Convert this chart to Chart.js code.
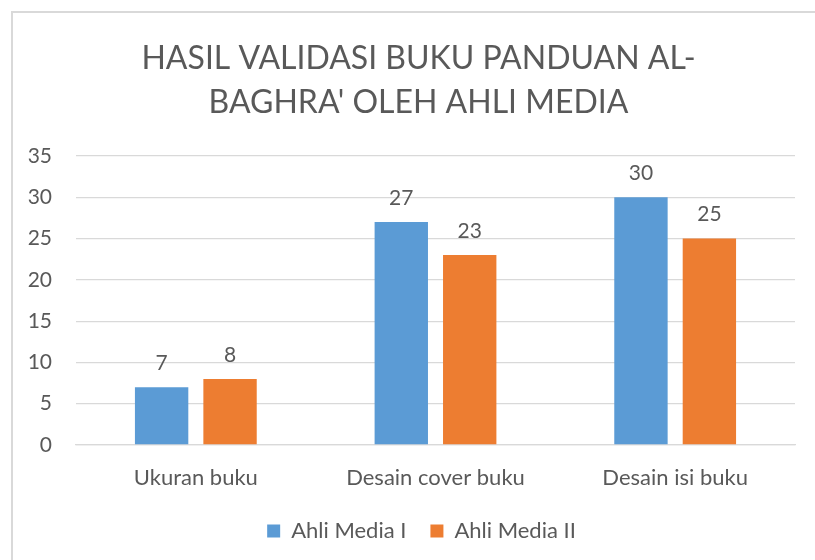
<!DOCTYPE html>
<html>
<head>
<meta charset="utf-8">
<script src="https://cdn.jsdelivr.net/npm/chart.js@4"></script>
<style>
  html, body { margin: 0; padding: 0; background: #fff; overflow: hidden; }
  #wrap { position: relative; width: 815px; height: 560px; }
  #frame { position: absolute; left: 11px; top: 11px; width: 830px; height: 580px;
           border: 2px solid #d9d9d9; pointer-events: none; }
</style>
</head>
<body>
<div id="wrap">
  <canvas id="chart" width="815" height="560"></canvas>
  <div id="frame"></div>
</div>
<script>
const categories = ['Ukuran buku', 'Desain cover buku', 'Desain isi buku'];
const ahliMedia1 = [7, 27, 30];
const ahliMedia2 = [8, 23, 25];
const seriesNames = ['Ahli Media I', 'Ahli Media II'];
const titleLines = ['HASIL VALIDASI BUKU PANDUAN AL-', "BAGHRA' OLEH AHLI MEDIA"];

const textColor = '#595959';
const fontFamily = 'Lato, "Open Sans", sans-serif';

// draws the value above each bar
const valueLabels = {
  id: 'valueLabels',
  afterDatasetsDraw(chart) {
    const ctx = chart.ctx;
    ctx.save();
    ctx.font = '21px ' + fontFamily;
    ctx.fillStyle = textColor;
    ctx.textAlign = 'center';
    ctx.textBaseline = 'middle';
    chart.data.datasets.forEach((ds, i) => {
      chart.getDatasetMeta(i).data.forEach((bar, j) => {
        ctx.fillText(ds.data[j], bar.x, bar.y - 24);
      });
    });
    ctx.restore();
  }
};

// title and legend in the original sit a bit right of the plot centre
const shiftBoxes = {
  id: 'shiftBoxes',
  afterLayout(chart) {
    const t = chart.titleBlock;
    if (t) { t.left += 14; t.right += 14; }
    const l = chart.legend;
    if (l) { l.left += 17; l.right += 17; }
  }
};

Chart.defaults.color = textColor;
Chart.defaults.font.family = fontFamily;

new Chart(document.getElementById('chart').getContext('2d'), {
  type: 'bar',
  data: {
    labels: categories,
    datasets: [{
      label: seriesNames[0],
      data: ahliMedia1,
      backgroundColor: '#5b9bd5',
      categoryPercentage: 0.571,
      barPercentage: 0.78
    }, {
      label: seriesNames[1],
      data: ahliMedia2,
      backgroundColor: '#ed7d31',
      categoryPercentage: 0.571,
      barPercentage: 0.78
    }]
  },
  options: {
    responsive: false,
    animation: false,
    layout: { padding: { left: 14, right: 20, top: 0, bottom: 8 } },
    scales: {
      x: {
        grid: { display: false, drawTicks: false },
        border: { display: true, color: '#d9d9d9', width: 1.3 },
        ticks: { font: { size: 22 }, padding: 20, color: textColor },
        afterFit: s => { s.height = 51; }
      },
      y: {
        min: 0,
        max: 35,
        grid: { color: '#d9d9d9', lineWidth: 1.3, drawTicks: false },
        border: { display: false },
        ticks: { stepSize: 5, font: { size: 21 }, padding: 24, color: textColor },
        afterFit: s => { s.width = 62; }
      }
    },
    plugins: {
      title: {
        display: true,
        text: titleLines,
        color: textColor,
        font: { size: 32, weight: 'normal', lineHeight: 1.36 },
        padding: { top: 37, bottom: 32 }
      },
      legend: {
        position: 'bottom',
        labels: {
          boxWidth: 13,
          boxHeight: 13,
          padding: 24,
          color: textColor,
          font: { size: 22 }
        }
      },
      tooltip: { enabled: false }
    }
  },
  plugins: [valueLabels, shiftBoxes]
});
</script>
</body>
</html>
